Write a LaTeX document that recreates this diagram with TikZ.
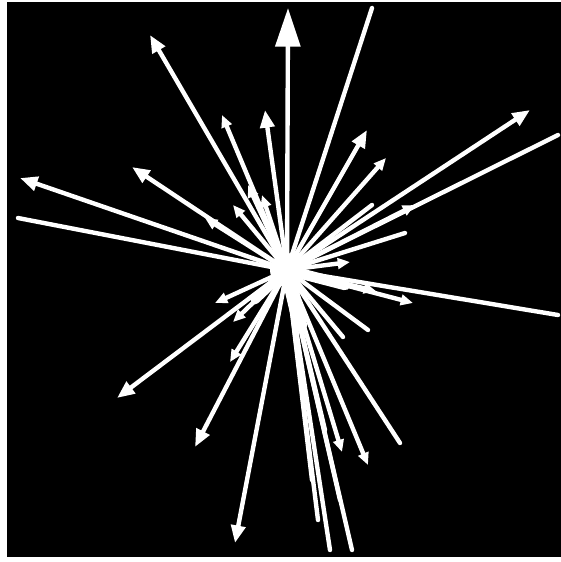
\documentclass[tikz,border=0pt]{standalone}
\usepackage{tikz}
\usetikzlibrary{arrows.meta}

\begin{document}
\begin{tikzpicture}[x=0.02cm, y=-0.02cm,
  ray/.style={draw=white, line width=2.5pt, line cap=round},
  bigtip/.style={ray, -{Triangle[length=22pt, width=14pt]}},
  midtip/.style={ray, -{Triangle[length=10pt, width=8pt]}},
  smalltip/.style={ray, -{Triangle[length=7pt, width=6pt]}}]
  \useasboundingbox (0,0) rectangle (561,562);
  \fill[white] (0,0) rectangle (561,562);
  \fill[black] (7,2) rectangle (561,557);
  \coordinate (c) at (287,270);

  % tracks without a tip
  \foreach \p in {(372,8), (558,135), (18,218), (558,315), (330,550),
                  (352,550), (400,443), (368,330), (343,337), (405,233),
                  (372,205), (318,520), (340,500), (312,480), (325,430)}
    \draw[ray] (c) -- \p;
  % tracks with a tip
  \draw[bigtip] (c) -- (288,8);
  \foreach \p in {(150,35), (265,110), (367,130), (530,110), (20,178),
                  (132,167), (117,398), (195,447), (235,543)}
    \draw[midtip] (c) -- \p;
  \foreach \p in {(222,115), (386,158), (342,452), (368,465), (413,303),
                  (215,303), (230,362), (376,291), (415,205), (233,205),
                  (248,185), (205,218), (233,322), (262,195), (350,262)}
    \draw[smalltip] (c) -- \p;

  % vertex
  \fill[white] (c) circle (17);
  \draw[white, line width=8pt, line cap=round] (c) -- (300,325);
  \draw[white, line width=6pt, line cap=round] (c) -- (345,285);
  \draw[white, line width=5pt, line cap=round] (c) -- (255,300);
\end{tikzpicture}
\end{document}
